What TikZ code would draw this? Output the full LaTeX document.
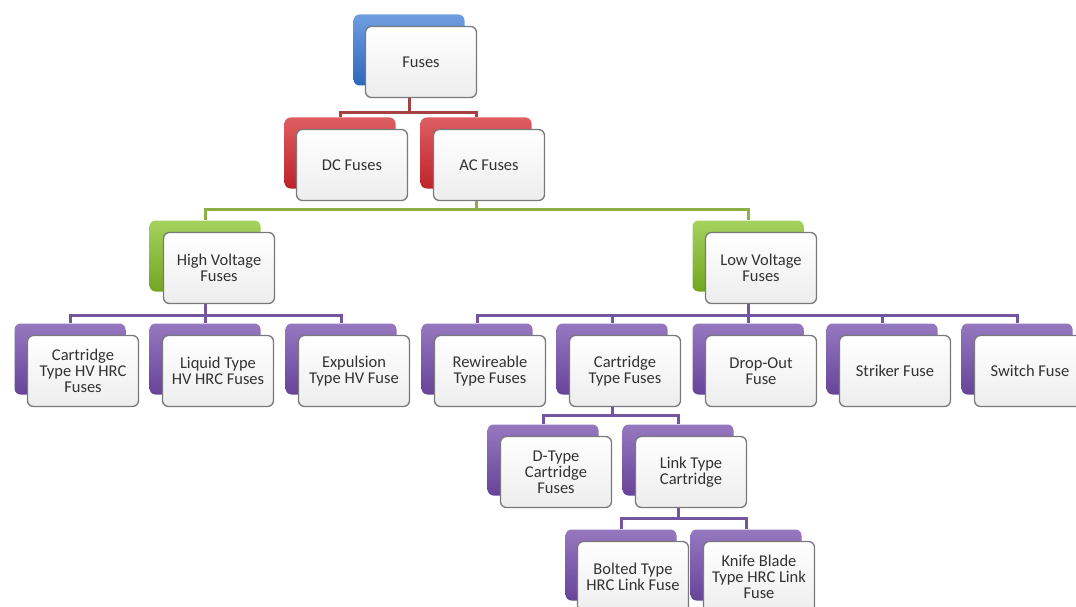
\documentclass[tikz,border=0pt]{standalone}
\usepackage{fontspec}
\setmainfont{Carlito}
\usetikzlibrary{positioning,calc}

\definecolor{fuseblue}{RGB}{50,115,210}
\definecolor{fusered}{RGB}{210,40,45}
\definecolor{fusegreen}{RGB}{135,195,40}
\definecolor{fusepurple}{RGB}{115,75,170}
\definecolor{edgegray}{RGB}{120,120,125}
\definecolor{textgray}{RGB}{50,50,50}
\definecolor{redline}{RGB}{165,65,65}
\definecolor{greenline}{RGB}{140,175,70}
\definecolor{purpleline}{RGB}{115,85,160}

\begin{document}
\begin{tikzpicture}[x=1pt,y=-1pt,
    every node/.style={font=\fontsize{16.5}{16}\selectfont, text=textgray},
    back/.style={rectangle, rounded corners=6pt, minimum width=111pt, minimum height=71pt, inner sep=0pt},
    front/.style={rectangle, rounded corners=6pt, draw=edgegray, line width=1.3pt, top color=white, bottom color=gray!14, minimum width=111pt, minimum height=71pt, inner sep=0pt, align=center},
    blueback/.style={back, top color=fuseblue!70, bottom color=fuseblue!90!black},
    redback/.style={back, top color=fusered!75, bottom color=fusered!90!black},
    greenback/.style={back, top color=fusegreen!75, bottom color=fusegreen!85!black},
    purpleback/.style={back, top color=fusepurple!75, bottom color=fusepurple!90!black},
    link/.style={line width=3pt}]
    \useasboundingbox (0,0) rectangle (1076,607);
    \clip (0,0) rectangle (1076,607);
    \fill[white] (0,0) rectangle (1076,607);
    % top level
    \node[blueback] (fusesB) at (409,50) {};
    \node[front] (fuses) at (421,62) {Fuses};
    % dc / ac
    \node[redback] (dcB) at (340,153) {};
    \node[front] (dc) at (352,165) {DC Fuses};
    \node[redback] (acB) at (476,153) {};
    \node[front] (ac) at (489,165) {AC Fuses};
    % high / low voltage
    \node[greenback] (hvB) at (205,256) {};
    \node[front] (hv) at (219,268) {High Voltage\\Fuses};
    \node[greenback] (lvB) at (748,256) {};
    \node[front] (lv) at (761,268) {Low Voltage\\Fuses};
    % high voltage types
    \node[purpleback] (hvcartB) at (70,359) {};
    \node[front] (hvcart) at (83,371) {Cartridge\\Type HV HRC\\Fuses};
    \node[purpleback] (liquidB) at (205,359) {};
    \node[front] (liquid) at (218,371) {Liquid Type\\HV HRC Fuses};
    \node[purpleback] (expulsionB) at (341,359) {};
    \node[front] (expulsion) at (354,371) {Expulsion\\Type HV Fuse};
    % low voltage types
    \node[purpleback] (rewireB) at (477,359) {};
    \node[front] (rewire) at (490,371) {Rewireable\\Type Fuses};
    \node[purpleback] (lvcartB) at (612,359) {};
    \node[front] (lvcart) at (625,371) {Cartridge\\Type Fuses};
    \node[purpleback] (dropoutB) at (748,359) {};
    \node[front] (dropout) at (761,371) {Drop-Out\\Fuse};
    \node[purpleback] (strikerB) at (882,359) {};
    \node[front] (striker) at (895,371) {Striker Fuse};
    \node[purpleback] (switchB) at (1017,359) {};
    \node[front] (switch) at (1030,371) {Switch Fuse};
    % cartridge types
    \node[purpleback] (dtypeB) at (543,460) {};
    \node[front] (dtype) at (556,472) {D-Type\\Cartridge\\Fuses};
    \node[purpleback] (linkB) at (678,460) {};
    \node[front] (linktype) at (691,472) {Link Type\\Cartridge};
    % link types
    \node[purpleback] (boltedB) at (621,565) {};
    \node[front] (bolted) at (633,577) {Bolted Type\\HRC Link Fuse};
    \node[purpleback] (knifeB) at (746,565) {};
    \node[front] (knife) at (759,577) {Knife Blade\\Type HRC Link\\Fuse};
    % connectors
    \draw[link, redline] (fuses.south -| fusesB) -- ++(0,14) -| (dcB.north);
    \draw[link, redline] (fuses.south -| fusesB) -- ++(0,14) -| (acB.north);
    \draw[link, greenline] (ac.south -| acB) -- ++(0,8) -| (hvB.north);
    \draw[link, greenline] (ac.south -| acB) -- ++(0,8) -| (lvB.north);
    \foreach \kid in {hvcartB,liquidB,expulsionB}
        \draw[link, purpleline] (hv.south -| hvB) -- ++(0,11) -| (\kid.north);
    \foreach \kid in {rewireB,lvcartB,dropoutB,strikerB,switchB}
        \draw[link, purpleline] (lv.south -| lvB) -- ++(0,11) -| (\kid.north);
    \foreach \kid in {dtypeB,linkB}
        \draw[link, purpleline] (lvcart.south -| lvcartB) -- ++(0,8) -| (\kid.north);
    \foreach \kid in {boltedB,knifeB}
        \draw[link, purpleline] (linktype.south -| linkB) -- ++(0,10) -| (\kid.north);
\end{tikzpicture}
\end{document}
